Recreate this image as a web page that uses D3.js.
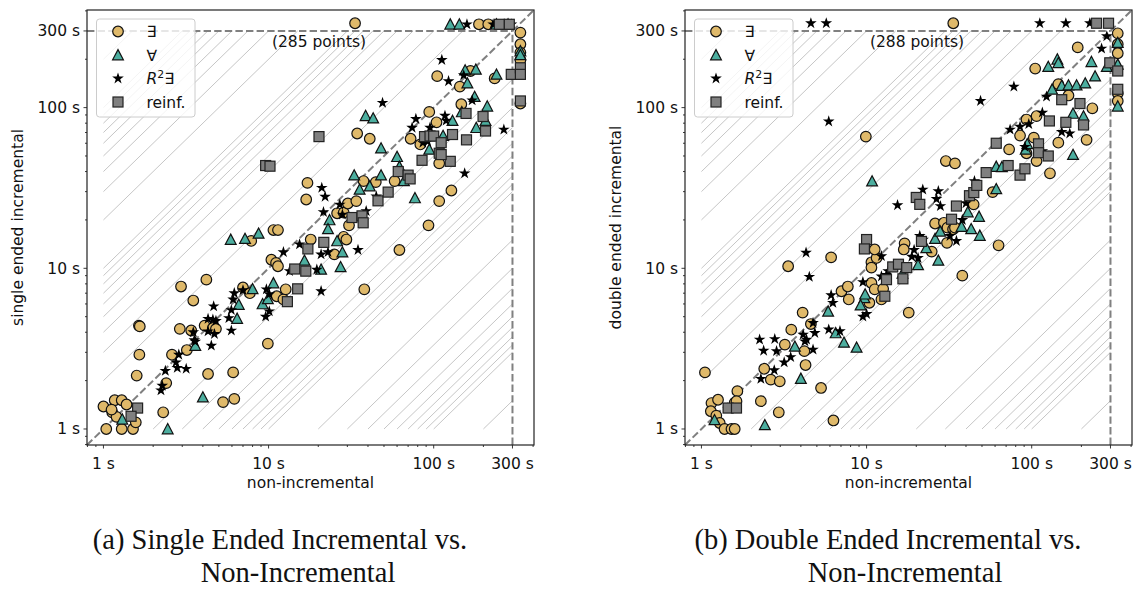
<!DOCTYPE html>
<html><head><meta charset="utf-8">
<script src="https://cdn.jsdelivr.net/npm/d3@7"></script>
<style>body{margin:0;background:#fff}svg{display:block}</style>
</head><body><svg id="c" width="1136" height="589"></svg>
<script>
// ---------- data (seconds: [non-incremental, incremental]) ----------
const singleExists = [[1.0,1.38],[1.17,1.51],[1.29,1.51],[1.38,1.42],[1.13,1.27],[1.2,1.19],[1.04,1.0],[1.29,1.0],[1.51,1.0],[1.57,1.1],[1.12,1.32],
 [1.64,4.4],[1.66,4.35],[1.65,2.9],[1.59,2.15],[2.3,1.27],[2.4,1.93],[2.6,2.9],[3.2,3.1],[2.9,4.2],[3.4,4.1],[4.1,4.4],[4.6,4.25],[4.8,4.2],[4.3,2.2],[6.1,2.25],[5.3,1.47],[6.2,1.54],[2.95,7.7],[4.2,8.5],[3.5,6.3],[7.0,7.6],[7.7,7.0],[9.9,3.4],[10.4,11.3],[11.1,10.8],[11.4,10.3],[11.2,6.7],[12.3,6.4],[12.7,7.4],[7.85,14.8],[10.7,17.3],[11.4,17.3],[18,15.1],[25,12.2],[28.5,15.7],[29.6,15.1],[38,7.4],[62,13],[17.2,34],[16.9,26.8],[26,22],[28.5,22.2],[30.7,18.5],[30.2,25.3],[34,26.2],[37.6,34.9],[44.6,34.4],[58,34.9],[34.4,69],[41,64],[33.4,335],[72.5,64],[83,59],[94,94],[104,81],[108,45],[128,30.5],[108,26.2],[93,18.5],[105,157],[144,135],[167,169],[234,152],[147,105],
 [188,330],[214,330],[335,293],[335,248],[335,220],[335,198],[335,106]];
const singleForall = [[1.3,1.15],[2.45,1.0],[4.0,1.58],[3.6,3.3],[6.6,5.95],[6.45,4.87],[8.0,7.45],[9.2,6.0],[9.9,6.45],[10.7,8.1],[5.9,15.1],[7.2,15.3],[8.7,16.5],[16.5,11.2],[20.8,9.85],[27.3,10.2],[28,12.6],[26,14.8],[23.4,20],[22.9,17.6],[33,38],[35.6,31],[48,38],[41,32.5],[48,56],[60,49.5],[62,43],[66,35],[77,27.4],[38.7,89],[43,86],[94,55],[114,67],[130,83],[148,94],[160,142],[155,171],[180,173],[177,117],[211,102],[206,83],[181,75],[240,161],
 [126,330],[143,330],[240,330],[282,330],[335,225],[335,213]];
const singleR2Exists = [[2.27,1.86],[2.23,1.74],[2.37,2.3],[2.75,2.6],[2.8,2.4],[3.17,2.37],[2.86,2.9],[3.5,4.0],[3.55,3.57],[3.6,3.5],[4.5,3.3],[4.3,4.05],[4.7,3.9],[4.3,4.85],[4.6,4.8],[4.8,4.7],[4.65,5.8],[5.95,4.1],[5.75,4.9],[5.95,5.5],[6.1,6.4],[6.2,7.0],[7.0,7.3],[9.6,5.0],[10.1,5.4],[9.7,7.4],[10.1,6.9],[12.3,12.6],[13.4,9.6],[15.4,14.1],[19.6,9.8],[20.8,7.2],[20.8,12.2],[22.9,12.6],[34.8,13],[21,31.7],[22,27.9],[21.5,22.4],[27,24.9],[28,21.6],[39,22.7],[44.9,28],[49,107],[78,85],[74,75],[95,75],[117,89],[119,83],[86,60.5],[92,61.5],[112,198],[123,146],[152,159],[171,111],[154,39],[266,73],
 [159,330],[229,330],[296,330]];
const singleReinf = [[1.61,1.35],[1.47,1.2],[9.6,43.6],[10.2,43.2],[20.2,66],[13,6.2],[15,7.45],[14.4,9.9],[16.8,9.6],[17.3,13.2],[21.6,14.5],[32,20.7],[36.8,21.2],[37.4,19.2],[46,26.3],[53,29.8],[61,40],[70,38],[72,36],[88,66],[95,66.6],[100,66.5],[111,60.5],[130,68],[108,52],[126,46.3],[85,47],[111,51],[158,63],[157,92],[199,88],[206,71.5],[295,161],
 [250,330],[287,330],[335,177],[335,161],[335,110]];

const doubleExists = [[1.15,1.45],[1.26,1.52],[1.14,1.29],[1.23,1.21],[1.29,1.09],[1.38,1.0],[1.52,1.0],[1.59,1.0],[1.59,1.46],[1.65,1.72],[1.63,1.49],
 [1.05,2.25],[2.29,1.49],[2.94,1.27],[2.4,2.37],[2.63,2.03],[2.98,1.98],[3.2,3.35],[3.5,4.15],[4.2,3.05],[4.27,2.5],[4.1,5.3],[4.6,4.5],[3.35,10.3],[6.1,11.7],[5.3,1.8],[6.3,1.13],[7.05,7.2],[7.7,7.7],[7.8,6.4],[10.4,6.1],[10.7,8.1],[11.2,7.4],[12.6,7.45],[12.3,6.4],[10.7,10.9],[10.7,10.1],[11.5,11.6],[11.2,13.1],[17,14.3],[16.8,13.1],[24.8,12.7],[18,5.3],[38,9.0],[63,13.9],[26,19],[29.4,19.2],[30.9,17.9],[33.4,17.5],[34.3,17.9],[30.7,14.4],[44.5,25],[58,29.8],[9.9,66],[30.2,46.5],[34.3,45],[73,55],[93,52],[107,46.5],[85,67],[103,65],[107,88.6],[93,84.3],[145,60.5],[215,63],[129,39],[167,119],[145,140],[233,99],[105,175],[190,237],
 [33.5,335],[332,290],[332,248],[332,218],[332,123],[332,110]];
const doubleForall = [[1.2,1.14],[2.42,1.06],[4.0,2.06],[3.68,3.27],[5.85,5.4],[6.5,3.96],[7.3,3.46],[8.7,3.22],[9.7,6.55],[9.2,5.9],[9.8,6.9],[10.8,34.9],[16.5,9.3],[20.5,10.5],[27.2,11.2],[23,13.4],[26,15.3],[27.9,17],[37.6,18.2],[41,22.4],[48,21],[43,17.6],[48.5,16],[61,31.2],[61,43],[66,42.8],[92,55],[94,59.5],[178,51],[178,92],[206,88.6],[133,130],[152,137],[167,138],[187,138],[211,142],[126,180],[143,200],[145,190],[230,193],[285,180],[242,157],
 [332,254],[332,186],[332,102]];
const doubleR2Exists = [[2.25,3.6],[2.78,3.63],[2.38,3.07],[2.85,3.05],[3.17,2.6],[3.47,2.8],[2.76,2.32],[2.29,2.05],[4.74,4.57],[4.86,3.96],[4.33,3.6],[4.74,3.12],[4.23,3.51],[4.13,3.87],[5.9,4.16],[6.9,4.06],[6.1,6.8],[6.25,6.1],[9.5,5.0],[10,5.2],[9.5,8.2],[4.3,12.5],[4.5,8.85],[5.9,82],[12.3,11.9],[13.2,9.1],[12.3,8.9],[13.5,9.6],[19.4,13],[18.8,11.8],[20.5,11.6],[21,15.9],[22,15.1],[15.4,24.7],[21,25],[21.9,30.9],[27.2,30.2],[26.5,27],[28,24.4],[45,34.9],[40,25.4],[38,20],[35,14.8],[32,15.9],[78,135],[49,110],[123,117],[116,93],[152,70.5],[170,69],[74,73],[85,76],[96,79],[91,57],[116,53.5],[285,278],[265,233],
 [4.6,335],[5.7,335],[112,335],[161,335],[225,335]];
const doubleReinf = [[1.45,1.35],[1.63,1.35],[10,15.1],[9.7,13.2],[14.4,10.2],[15.6,10.6],[17.5,10.1],[16.6,8.6],[13.2,8.5],[12.9,6.7],[21.5,14.7],[20,27.6],[21,25],[32.7,20.2],[35,24.4],[42,28.3],[44.6,29.6],[46.5,32.8],[53,39.4],[61,60],[72,43.6],[85,38],[91,41.6],[110,59.5],[110,52.4],[126,50],[128,82.6],[152,112],[161,81],[206,78],[196,106],[297,190],
 [247,335],[292,335],[332,169],[332,130]];

const majorTicks = [1, 10, 100, 300];
const majorLabels = ["1 s", "10 s", "100 s", "300 s"];
const hatchFactors = [2,3,4,5,6,7,8,9,10,20,30,40,50,60,70,80,90,100,200];
const timeoutSec = 300;
const axisDomain = [0.795, 405];
const legendNames = ["∃", "∀", "R2∃", "reinf."];
const pointCounts = ["(285 points)", "(288 points)"];
const yLabels = ["single ended incremental", "double ended incremental"];
const xLabel = "non-incremental";
const captions = [["(a) Single Ended Incremental vs.", "Non-Incremental"], ["(b) Double Ended Incremental vs.", "Non-Incremental"]];

// ---------- drawing ----------
const svg = d3.select("#c");
const FONT = "'DejaVu Sans', sans-serif";
const FS = 15.5;
const TOP = 10, BOTTOM = 445;
const COL = {exists:"#DFB96A", forall:"#4CAE9F", reinf:"#808080", edge:"#111"};
const defs = svg.append("defs");

const markers = {
  exists: (sel) => sel.append("circle").attr("r", 5.3).attr("fill", COL.exists).attr("stroke", COL.edge).attr("stroke-width", 1.2),
  forall: (sel) => sel.append("path").attr("d", "M0,-5.4L5.4,4.8L-5.4,4.8Z").attr("fill", COL.forall).attr("stroke", COL.edge).attr("stroke-width", 1.2),
  r2: (sel) => sel.append("path").attr("d", d3.symbol(d3.symbolStar, 42)()).attr("fill", "#000"),
  reinf: (sel) => sel.append("rect").attr("x", -5).attr("y", -5).attr("width", 10).attr("height", 10).attr("fill", COL.reinf).attr("stroke", "#222").attr("stroke-width", 1.2)
};

function drawPanel(idx, left, right, series) {
  const x = d3.scaleLog().domain(axisDomain).range([left, right]);
  const y = d3.scaleLog().domain(axisDomain).range([BOTTOM, TOP]);
  const g = svg.append("g");
  const cid = "clip" + idx;
  defs.append("clipPath").attr("id", cid).append("rect")
    .attr("x", left).attr("y", TOP).attr("width", right - left).attr("height", BOTTOM - TOP);
  const plot = g.append("g").attr("clip-path", `url(#${cid})`);

  // hatching lines y = k x and y = x / k inside [1, 300]^2
  const hatch = [];
  hatchFactors.forEach(k => {
    hatch.push([[1, k], [timeoutSec / k, timeoutSec]]);
    hatch.push([[k, 1], [timeoutSec, timeoutSec / k]]);
  });
  plot.selectAll("line.hatch").data(hatch).join("line").attr("class", "hatch")
    .attr("x1", d => x(d[0][0])).attr("y1", d => y(d[0][1]))
    .attr("x2", d => x(d[1][0])).attr("y2", d => y(d[1][1]))
    .attr("stroke", "#c6c6c6").attr("stroke-width", 1);

  // dashed reference lines
  const dashed = [
    [[axisDomain[0], axisDomain[0]], [axisDomain[1], axisDomain[1]]],
    [[axisDomain[0], timeoutSec], [timeoutSec, timeoutSec]],
    [[timeoutSec, axisDomain[0]], [timeoutSec, timeoutSec]]
  ];
  plot.selectAll("line.dash").data(dashed).join("line").attr("class", "dash")
    .attr("x1", d => x(d[0][0])).attr("y1", d => y(d[0][1]))
    .attr("x2", d => x(d[1][0])).attr("y2", d => y(d[1][1]))
    .attr("stroke", "#808080").attr("stroke-width", 2).attr("stroke-dasharray", "7.4,3.2");

  // points
  [["exists", series[0]], ["forall", series[1]], ["r2", series[2]], ["reinf", series[3]]].forEach(([key, data]) => {
    const gs = plot.append("g").selectAll("g").data(data).join("g")
      .attr("transform", d => `translate(${x(d[0])},${y(d[1])})`);
    markers[key](gs);
  });

  // count text
  g.append("text").attr("x", left + (right - left) * 0.519).attr("y", 47)
    .attr("text-anchor", "middle").attr("font-family", FONT).attr("font-size", FS).attr("fill", "#111")
    .text(pointCounts[idx]);

  // legend
  const lg = g.append("g").attr("transform", `translate(${left + 9.5},19)`);
  lg.append("rect").attr("width", 98.5).attr("height", 98).attr("rx", 3)
    .attr("fill", "#fff").attr("fill-opacity", 0.8).attr("stroke", "#cccccc").attr("stroke-width", 1);
  ["exists", "forall", "r2", "reinf"].forEach((key, i) => {
    const cy = 12.5 + i * 23.5;
    const m = lg.append("g").attr("transform", `translate(21.5,${cy})`);
    markers[key](m);
    const t = lg.append("text").attr("x", 50).attr("y", cy + 5.5)
      .attr("font-family", FONT).attr("font-size", FS).attr("fill", "#111");
    if (key === "r2") {
      t.append("tspan").attr("font-style", "italic").text("R");
      t.append("tspan").attr("font-size", FS * 0.7).attr("dy", -6).text("2");
      t.append("tspan").attr("dy", 6).text("∃");
    } else t.text(legendNames[i]);
  });

  // frame
  g.append("rect").attr("x", left).attr("y", TOP).attr("width", right - left).attr("height", BOTTOM - TOP)
    .attr("fill", "none").attr("stroke", "#222").attr("stroke-width", 1.2);

  // ticks
  const minor = [];
  [0.1, 1, 10, 100].forEach(b => { for (let m = 1; m <= 9; m++) { const v = b * m; if (v >= axisDomain[0] && v <= axisDomain[1] && !majorTicks.includes(v)) minor.push(v); } });
  const tk = g.append("g").attr("stroke", "#222").attr("stroke-width", 0.9);
  minor.forEach(v => {
    tk.append("line").attr("x1", x(v)).attr("x2", x(v)).attr("y1", BOTTOM).attr("y2", BOTTOM + 2);
    tk.append("line").attr("y1", y(v)).attr("y2", y(v)).attr("x1", left).attr("x2", left - 2);
  });
  majorTicks.forEach((v, i) => {
    tk.append("line").attr("x1", x(v)).attr("x2", x(v)).attr("y1", BOTTOM).attr("y2", BOTTOM + 3.5);
    tk.append("line").attr("y1", y(v)).attr("y2", y(v)).attr("x1", left).attr("x2", left - 3.5);
    g.append("text").attr("x", x(v)).attr("y", BOTTOM + 24).attr("text-anchor", "middle")
      .attr("font-family", FONT).attr("font-size", FS).attr("fill", "#111").text(majorLabels[i]);
    g.append("text").attr("x", left - 7).attr("y", y(v) + 5.5).attr("text-anchor", "end")
      .attr("font-family", FONT).attr("font-size", FS).attr("fill", "#111").text(majorLabels[i]);
  });

  // axis labels
  g.append("text").attr("x", (left + right) / 2).attr("y", 488).attr("text-anchor", "middle")
    .attr("font-family", FONT).attr("font-size", FS).attr("fill", "#111").text(xLabel);
  g.append("text").attr("transform", `translate(${left - 64.5},${(TOP + BOTTOM) / 2}) rotate(-90)`)
    .attr("text-anchor", "middle").attr("font-family", FONT).attr("font-size", FS).attr("fill", "#111").text(yLabels[idx]);
}

drawPanel(0, 87, 534, [singleExists, singleForall, singleR2Exists, singleReinf]);
drawPanel(1, 685, 1132, [doubleExists, doubleForall, doubleR2Exists, doubleReinf]);

// captions
const capPos = [[280, 298], [888, 905]];
captions.forEach((lines, i) => {
  lines.forEach((ln, j) => {
    svg.append("text").attr("x", capPos[i][j]).attr("y", 549 + j * 33).attr("text-anchor", "middle")
      .attr("font-family", "'Liberation Serif', serif").attr("font-size", 28.5).attr("fill", "#111").text(ln);
  });
});
</script></body></html>
